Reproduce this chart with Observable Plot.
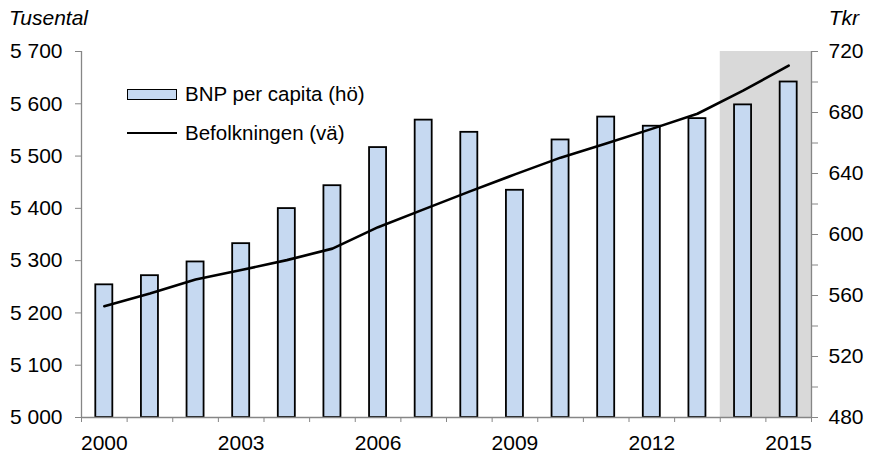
<!DOCTYPE html>
<html>
<head>
<meta charset="utf-8">
<script src="https://cdn.jsdelivr.net/npm/d3@7"></script>
<script src="https://cdn.jsdelivr.net/npm/@observablehq/plot@0.6"></script>
<style>
  html, body { margin: 0; padding: 0; background: #fff; }
  #wrap { position: relative; width: 871px; height: 454px; font-family: "Liberation Sans", Arial, sans-serif; color: #000; }
  #wrap svg { position: absolute; left: 0; top: 0; }
  .ttl { position: absolute; font-size: 21px; font-style: italic; line-height: 21px; white-space: nowrap; }
  .leg { position: absolute; font-size: 20.5px; line-height: 20px; white-space: nowrap; display: flex; align-items: center; }
  .sw-bar { width: 48px; height: 9px; background: #c6d9f1; border: 1.5px solid #000; margin-right: 8px; }
  .sw-line { width: 50px; height: 0; border-top: 2.5px solid #000; margin-right: 8px; }
</style>
</head>
<body>
<div id="wrap">
  <div class="ttl" style="left:9px; top:7px;">Tusental</div>
  <div class="ttl" style="right:12px; top:7px;">Tkr</div>
  <div class="leg" style="left:127px; top:84px;"><span class="sw-bar"></span>BNP per capita (hö)</div>
  <div class="leg" style="left:127px; top:123px;"><span class="sw-line"></span>Befolkningen (vä)</div>
</div>
<script>
const years = [2000, 2001, 2002, 2003, 2004, 2005, 2006, 2007, 2008, 2009, 2010, 2011, 2012, 2013, 2014, 2015];
const bnpPerCapita = [567, 573, 582, 594, 617, 632, 657, 675, 667, 629, 662, 677, 671, 676, 685, 700]; // Tkr, right axis
const befolkningen = [5213, 5237, 5264, 5282, 5301, 5323, 5364, 5398, 5432, 5465, 5497, 5524, 5552, 5581, 5625, 5673]; // Tusental, left axis
const leftTicks = [5000, 5100, 5200, 5300, 5400, 5500, 5600, 5700];
const rightTicks = [480, 500, 520, 540, 560, 580, 600, 620, 640, 660, 680, 700, 720];
const rightLabels = [480, 520, 560, 600, 640, 680, 720];
const xLabelYears = [2000, 2003, 2006, 2009, 2012, 2015];
const forecastYears = [2014, 2015];

const leftDomain = [5000, 5700];
const rightDomain = [480, 720];
const toLeft = v => leftDomain[0] + (v - rightDomain[0]) * (leftDomain[1] - leftDomain[0]) / (rightDomain[1] - rightDomain[0]);
const toRight = v => rightDomain[0] + (v - leftDomain[0]) * (rightDomain[1] - rightDomain[0]) / (leftDomain[1] - leftDomain[0]);

const data = years.map((year, i) => ({year, bnp: bnpPerCapita[i], pop: befolkningen[i]}));
const xDomain = [years[0] - 0.5, years[years.length - 1] + 0.5];
const boundaries = years.map(y => y - 0.5).concat([years[years.length - 1] + 0.5]);
const forecast = [{from: forecastYears[0] - 0.5, to: forecastYears[forecastYears.length - 1] + 0.5}];

const fmtThousands = d => d3.format(",")(d).replace(/,/g, " ");
const axisGray = "#868686";

const chart = Plot.plot({
  width: 871,
  height: 454,
  marginLeft: 81,
  marginRight: 60,
  marginTop: 51,
  marginBottom: 37,
  style: {fontFamily: "'Liberation Sans', Arial, sans-serif", fontSize: "21px", color: "#000", background: "transparent", overflow: "visible"},
  x: {type: "linear", domain: xDomain, label: null},
  y: {domain: leftDomain, label: null},
  marks: [
    Plot.rect(forecast, {x1: "from", x2: "to", y1: leftDomain[0], y2: leftDomain[1], fill: "#d9d9d9"}),
    Plot.rectY(data, {
      x1: d => d.year - 0.5, x2: d => d.year + 0.5,
      y1: leftDomain[0], y2: d => toLeft(d.bnp),
      insetLeft: 14.3, insetRight: 14.3,
      fill: "#c6d9f1", stroke: "#000", strokeWidth: 1.8
    }),
    Plot.line(data, {x: "year", y: "pop", stroke: "#000", strokeWidth: 2.6, curve: "linear"}),
    Plot.ruleX(xDomain, {stroke: axisGray, strokeWidth: 1.3}),
    Plot.ruleY([leftDomain[0]], {stroke: axisGray, strokeWidth: 1.3}),
    Plot.axisY(leftTicks, {anchor: "left", tickSize: 6, tickPadding: 13, stroke: axisGray, fill: "#000", tickFormat: fmtThousands, label: null}),
    Plot.axisY(rightTicks.map(toLeft), {
      anchor: "right", tickSize: 6, tickPadding: 11, stroke: axisGray, fill: "#000", label: null,
      tickFormat: d => { const v = Math.round(toRight(d)); return rightLabels.includes(v) ? String(v) : ""; }
    }),
    Plot.axisX(boundaries, {anchor: "bottom", tickSize: 5, stroke: axisGray, tickFormat: () => "", label: null}),
    Plot.axisX(xLabelYears, {anchor: "bottom", tickSize: 0, tickPadding: 18, fill: "#000", tickFormat: d => String(d), label: null})
  ]
});
document.getElementById("wrap").prepend(chart);
</script>
</body>
</html>
